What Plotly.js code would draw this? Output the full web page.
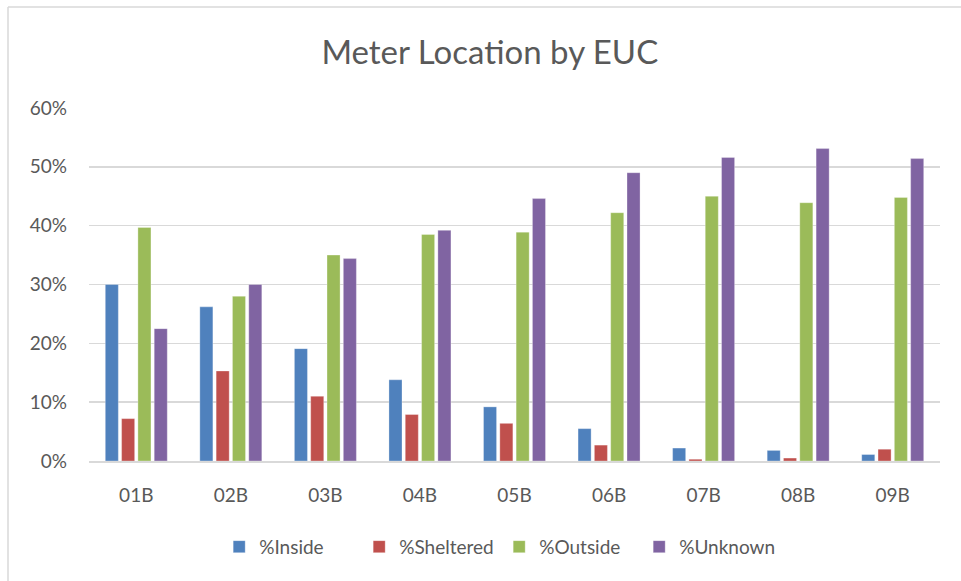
<!DOCTYPE html>
<html>
<head>
<meta charset="utf-8">
<script src="https://cdn.plot.ly/plotly-3.0.1.min.js"></script>
<style>html,body{margin:0;padding:0;background:#fff;}#chart{width:961px;height:581px;}</style>
</head>
<body>
<div id="chart"></div>
<script>
const categories = ["01B","02B","03B","04B","05B","06B","07B","08B","09B"];
const inside    = [0.300, 0.262, 0.191, 0.138, 0.092, 0.055, 0.022, 0.018, 0.011];
const sheltered = [0.072, 0.153, 0.110, 0.079, 0.064, 0.027, 0.003, 0.005, 0.020];
const outside   = [0.397, 0.280, 0.350, 0.385, 0.389, 0.422, 0.450, 0.439, 0.448];
const unknown   = [0.225, 0.300, 0.344, 0.392, 0.446, 0.490, 0.516, 0.531, 0.514];
const seriesNames = ["%Inside","%Sheltered","%Outside","%Unknown"];
const colors = ["#4F81BD","#C0504D","#9BBB59","#8064A2"];
const tickVals = [0,0.1,0.2,0.3,0.4,0.5,0.6];
const tickText = ["0%","10%","20%","30%","40%","50%","60%"];

const font = "Lato, 'Open Sans', sans-serif";
const data = [inside, sheltered, outside, unknown].map((v,i)=>({
  type:"bar", x:categories, y:v, name:seriesNames[i],
  marker:{color:colors[i], line:{color:"rgba(255,255,255,0.6)", width:0.5}}
}));

const layout = {
  width:961, height:581,
  margin:{l:89, r:21, t:108, b:120},
  paper_bgcolor:"#fff", plot_bgcolor:"#fff",
  font:{family:font, color:"#595959", size:19},
  title:{text:"Meter Location by EUC", font:{family:font, size:33, color:"#595959"},
         x:0.471, xref:"paper", xanchor:"center", y:0.91, yanchor:"middle"},
  barmode:"group", bargap:0.31, bargroupgap:0.2,
  showlegend:true,
  legend:{orientation:"h", x:0.482, xanchor:"center", y:-0.243, yanchor:"middle",
          font:{family:font, size:19, color:"#595959"}, itemwidth:30, traceorder:"normal",
          entrywidth:95, entrywidthmode:"pixels"},
  xaxis:{type:"category", showgrid:false, showline:true, linecolor:"#D9D9D9", linewidth:1.5,
         ticks:"", ticklabelstandoff:17, tickfont:{family:font, size:19, color:"#595959"}},
  yaxis:{range:[0,0.6], tickvals:tickVals, ticktext:tickText, showgrid:true, gridcolor:"#D9D9D9",
         gridwidth:1.5, zeroline:false, showline:false, ticks:"", ticklabelstandoff:21,
         tickfont:{family:font, size:19, color:"#595959"}},
  shapes:[
    {type:"line", xref:"paper", yref:"paper", x0:(8-89)/851, x1:(961-89)/851, y0:(461-7)/353, y1:(461-7)/353,
     line:{color:"#D9D9D9", width:1.5}},
    {type:"line", xref:"paper", yref:"paper", x0:(8-89)/851, x1:(8-89)/851, y0:(461-7)/353, y1:(461-581)/353,
     line:{color:"#D9D9D9", width:1.5}}
  ]
};
Plotly.newPlot("chart", data, layout, {displayModeBar:false, staticPlot:true});
</script>
</body>
</html>
